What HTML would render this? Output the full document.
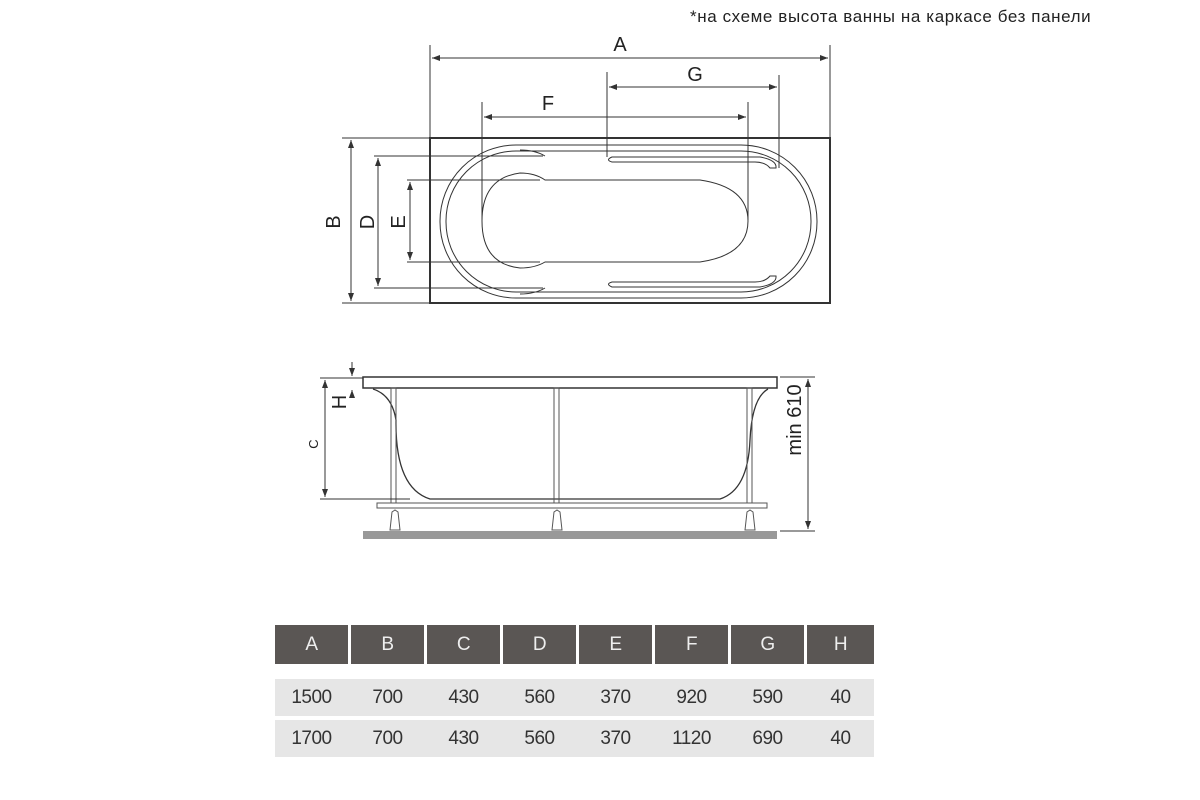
<!DOCTYPE html>
<html><head><meta charset="utf-8"><style>
body{margin:0;background:#fff;width:1200px;height:800px;overflow:hidden;font-family:"Liberation Sans",sans-serif}
.note{position:absolute;left:690px;top:7px;font-size:17px;color:#222;letter-spacing:0.6px;white-space:nowrap}
.c{position:absolute;display:flex;align-items:center;justify-content:center;font-size:19px;color:#333;letter-spacing:-0.5px}
</style></head><body>
<div class="note">*на схеме высота ванны на каркасе без панели</div>
<svg width="1200" height="800" style="position:absolute;left:0;top:0">
<defs><marker id="ar" markerWidth="8" markerHeight="6" refX="8" refY="3" orient="auto-start-reverse"><path d="M0,0 L8,3 L0,6 z" fill="#333"/></marker></defs>
<g stroke="#333" fill="none" stroke-width="1">
<line x1="430" y1="45" x2="430" y2="138"/><line x1="830" y1="45" x2="830" y2="138"/>
<line x1="607" y1="72" x2="607" y2="157"/><line x1="779" y1="75" x2="779" y2="168"/>
<line x1="482" y1="102" x2="482" y2="220"/><line x1="748" y1="102" x2="748" y2="220"/>
<line x1="342" y1="138" x2="430" y2="138"/><line x1="342" y1="303" x2="430" y2="303"/>
<line x1="374" y1="156" x2="543" y2="156"/><line x1="374" y1="288" x2="543" y2="288"/>
<line x1="407" y1="180" x2="540" y2="180"/><line x1="407" y1="262" x2="540" y2="262"/>
<line x1="432" y1="58" x2="828" y2="58" marker-start="url(#ar)" marker-end="url(#ar)"/>
<line x1="609" y1="87" x2="777" y2="87" marker-start="url(#ar)" marker-end="url(#ar)"/>
<line x1="484" y1="117" x2="746" y2="117" marker-start="url(#ar)" marker-end="url(#ar)"/>
<line x1="351" y1="140" x2="351" y2="301" marker-start="url(#ar)" marker-end="url(#ar)"/>
<line x1="378" y1="158" x2="378" y2="286" marker-start="url(#ar)" marker-end="url(#ar)"/>
<line x1="410" y1="182" x2="410" y2="260" marker-start="url(#ar)" marker-end="url(#ar)"/>
<rect x="430" y="138" width="400" height="165" stroke-width="2"/>
<rect x="440" y="145" width="377" height="153" rx="76" ry="76"/>
<rect x="446" y="151" width="365" height="141" rx="70" ry="70"/>
<path d="M545,180 Q535,173 520,173 Q482,178 482,221 Q482,264 520,268 Q535,268 545,262 L700,262 Q748,255 748,221 Q748,187 700,180 Z"/>
<path d="M545,156 Q535,150 520,150"/><path d="M545,288 Q535,294 520,294"/>
<path d="M612,157 L760,157 Q777,160 776,168 L770,168 Q765,162 755,162 L612,162 Q605,160 612,157Z"/>
<path d="M612,287 L760,287 Q777,284 776,276 L770,276 Q765,282 755,282 L612,282 Q605,284 612,287Z"/>
<rect x="363" y="377" width="414" height="11" stroke-width="1.5"/>
<path d="M373,389 Q392,395 396,420 Q395,488 430,499 L720,499 Q748,490 750,440 Q752,398 768,389" stroke-width="1.3"/>
<g stroke="#555"><rect x="391" y="388" width="5" height="115"/><rect x="554" y="388" width="5" height="115"/><rect x="747" y="388" width="5" height="115"/>
<rect x="377" y="503" width="390" height="5"/>
<path d="M390,530 L392,512 L395,510 L398,512 L400,530Z"/><path d="M552,530 L554,512 L557,510 L560,512 L562,530Z"/><path d="M745,530 L747,512 L750,510 L753,512 L755,530Z"/></g>
<rect x="363" y="531" width="414" height="8" fill="#999" stroke="none"/>
<line x1="320" y1="378" x2="363" y2="378"/><line x1="320" y1="499" x2="410" y2="499"/>
<line x1="325" y1="380" x2="325" y2="497" marker-start="url(#ar)" marker-end="url(#ar)"/>
<line x1="352" y1="362" x2="352" y2="376" marker-end="url(#ar)"/><line x1="352" y1="398" x2="352" y2="390" marker-end="url(#ar)"/>
<line x1="780" y1="377" x2="815" y2="377"/><line x1="780" y1="531" x2="815" y2="531"/>
<line x1="808" y1="379" x2="808" y2="529" marker-start="url(#ar)" marker-end="url(#ar)"/>
</g>
<g font-size="20" fill="#222" text-anchor="middle">
<text x="620" y="51">A</text><text x="695" y="81">G</text><text x="548" y="110">F</text>
<text transform="translate(340,222) rotate(-90)">B</text>
<text transform="translate(374,222) rotate(-90)">D</text>
<text transform="translate(405,222) rotate(-90)">E</text>
<text transform="translate(346,402) rotate(-90)">H</text>
<text transform="translate(318,444) rotate(-90)" font-size="13">C</text>
<text transform="translate(801,420) rotate(-90)">min 610</text>
</g>
</svg>
<div class="c" style="left:275px;top:625px;width:73px;height:39px;background:#5a5654;color:#eee">A</div>
<div class="c" style="left:351px;top:625px;width:73px;height:39px;background:#5a5654;color:#eee">B</div>
<div class="c" style="left:427px;top:625px;width:73px;height:39px;background:#5a5654;color:#eee">C</div>
<div class="c" style="left:503px;top:625px;width:73px;height:39px;background:#5a5654;color:#eee">D</div>
<div class="c" style="left:579px;top:625px;width:73px;height:39px;background:#5a5654;color:#eee">E</div>
<div class="c" style="left:655px;top:625px;width:73px;height:39px;background:#5a5654;color:#eee">F</div>
<div class="c" style="left:731px;top:625px;width:73px;height:39px;background:#5a5654;color:#eee">G</div>
<div class="c" style="left:807px;top:625px;width:67px;height:39px;background:#5a5654;color:#eee">H</div>
<div style="position:absolute;left:275px;top:679px;width:599px;height:37px;background:#e6e6e6"></div>
<div style="position:absolute;left:275px;top:720px;width:599px;height:37px;background:#e6e6e6"></div>
<div class="c" style="left:275px;top:679px;width:73px;height:37px">1500</div>
<div class="c" style="left:351px;top:679px;width:73px;height:37px">700</div>
<div class="c" style="left:427px;top:679px;width:73px;height:37px">430</div>
<div class="c" style="left:503px;top:679px;width:73px;height:37px">560</div>
<div class="c" style="left:579px;top:679px;width:73px;height:37px">370</div>
<div class="c" style="left:655px;top:679px;width:73px;height:37px">920</div>
<div class="c" style="left:731px;top:679px;width:73px;height:37px">590</div>
<div class="c" style="left:807px;top:679px;width:67px;height:37px">40</div>
<div class="c" style="left:275px;top:720px;width:73px;height:37px">1700</div>
<div class="c" style="left:351px;top:720px;width:73px;height:37px">700</div>
<div class="c" style="left:427px;top:720px;width:73px;height:37px">430</div>
<div class="c" style="left:503px;top:720px;width:73px;height:37px">560</div>
<div class="c" style="left:579px;top:720px;width:73px;height:37px">370</div>
<div class="c" style="left:655px;top:720px;width:73px;height:37px">1120</div>
<div class="c" style="left:731px;top:720px;width:73px;height:37px">690</div>
<div class="c" style="left:807px;top:720px;width:67px;height:37px">40</div>
</body></html>
